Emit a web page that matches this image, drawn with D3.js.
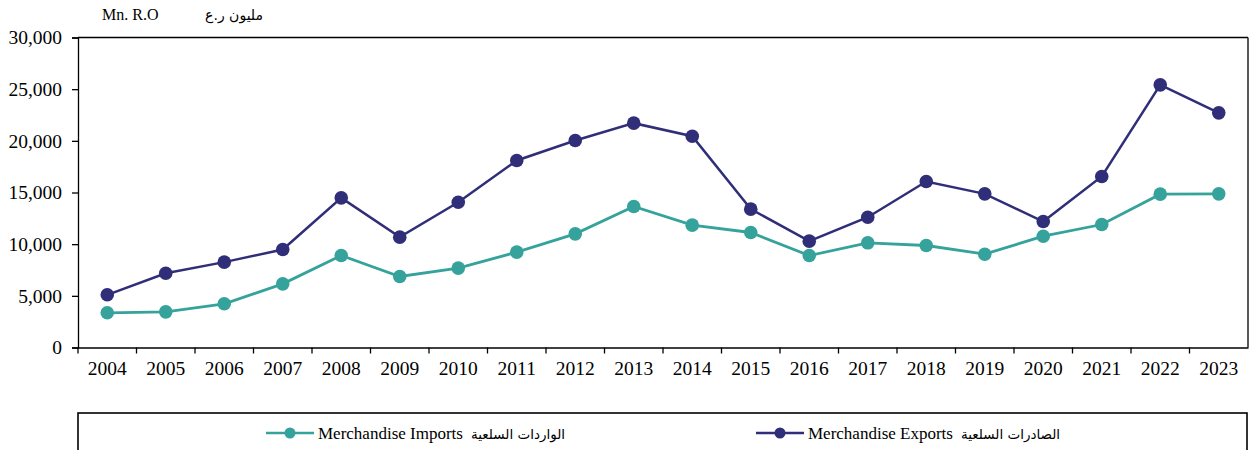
<!DOCTYPE html>
<meta charset="utf-8">
<style>
body { margin: 0; background: #fff; }
.axis path, .axis line { stroke: #000; }
.axis text { font-family: "Liberation Serif", "Times New Roman", serif; font-size: 19.5px; fill: #000; }
</style>
<div id="viz"></div>
<script src="https://d3js.org/d3.v7.min.js"></script>
<script>
// data (million R.O)
var years   = ['2004','2005','2006','2007','2008','2009','2010','2011','2012','2013',
               '2014','2015','2016','2017','2018','2019','2020','2021','2022','2023'];
var exportsV = [5100, 7190, 8260, 9480, 14480, 10680, 14060, 18100, 20030, 21710,
                20450, 13390, 10290, 12610, 16060, 14870, 12190, 16550, 25420, 22710];
var importsV = [3360, 3450, 4230, 6160, 8900, 6870, 7680, 9230, 11000, 13650,
                11840, 11130, 8900, 10130, 9870, 9030, 10770, 11900, 14840, 14870];
var yTicks = [0, 5000, 10000, 15000, 20000, 25000, 30000];

var series = [
  {name: 'Merchandise Imports', ar: 'الواردات السلعية', values: importsV, color: '#35a39b', lw: 2.8},
  {name: 'Merchandise Exports', ar: 'الصادرات السلعية', values: exportsV, color: '#302e78', lw: 2.5}
];

var W = 1250, H = 450;
var svg = d3.select('#viz').append('svg')
    .attr('width', W).attr('height', H);

var x = d3.scaleBand().domain(years).range([78, 1248]).padding(0);
var y = d3.scaleLinear().domain([0, 30000]).range([347.5, 37.5]);

// frame: top and right borders
svg.append('line')
    .attr('x1', x.range()[0]).attr('x2', x.range()[1])
    .attr('y1', y(30000)).attr('y2', y(30000))
    .attr('stroke', '#000').attr('stroke-width', 1.3);
svg.append('line')
    .attr('x1', x.range()[1]).attr('x2', x.range()[1])
    .attr('y1', y(30000)).attr('y2', y(0))
    .attr('stroke', '#000').attr('stroke-width', 1.3);

// y axis
svg.append('g')
    .attr('class', 'axis')
    .attr('transform', 'translate(' + x.range()[0] + ',0)')
    .call(d3.axisLeft(y).tickValues(yTicks).tickSize(6).tickPadding(10).tickFormat(d3.format(',')))
    .call(g => g.selectAll('path, line').attr('stroke-width', 1.3));

// x axis: labels at band centres, ticks at band edges
var xa = svg.append('g')
    .attr('class', 'axis')
    .attr('transform', 'translate(0,' + y(0) + ')')
    .call(d3.axisBottom(x).tickSize(0).tickPadding(14).tickSizeOuter(0))
    .call(g => g.select('.domain').attr('stroke-width', 1.3));
xa.selectAll('.edge')
    .data(years)
    .enter().append('line')
    .attr('class', 'edge')
    .attr('x1', d => x(d)).attr('x2', d => x(d))
    .attr('y1', 0).attr('y2', 6)
    .attr('stroke', '#000').attr('stroke-width', 1.3);

// lines + markers
var line = d3.line()
    .x((d, i) => x(years[i]) + x.bandwidth() / 2)
    .y(d => y(d));

series.forEach(function(s) {
  svg.append('path')
      .datum(s.values)
      .attr('fill', 'none')
      .attr('stroke', s.color)
      .attr('stroke-width', s.lw)
      .attr('d', line);
  svg.append('g')
      .selectAll('circle')
      .data(s.values)
      .enter().append('circle')
      .attr('cx', (d, i) => x(years[i]) + x.bandwidth() / 2)
      .attr('cy', d => y(d))
      .attr('r', 6.8)
      .attr('fill', s.color);
});

// unit labels
svg.append('text')
    .attr('x', 102).attr('y', 20)
    .style('font-family', '"Liberation Serif", serif').style('font-size', '16px')
    .text('Mn. R.O');
svg.append('text')
    .attr('x', 263).attr('y', 20)
    .attr('text-anchor', 'end')
    .style('font-family', '"DejaVu Sans", serif').style('font-size', '14px')
    .text('مليون ر.ع');

// legend box
svg.append('rect')
    .attr('x', 78).attr('y', 413)
    .attr('width', 1169).attr('height', 60)
    .attr('fill', 'none').attr('stroke', '#000').attr('stroke-width', 1.6);

var legX = [266, 756];
series.forEach(function(s, i) {
  var g = svg.append('g').attr('transform', 'translate(' + legX[i] + ',433)');
  g.append('line').attr('x1', 0).attr('x2', 48).attr('y1', 0).attr('y2', 0)
      .attr('stroke', s.color).attr('stroke-width', 2.5);
  g.append('circle').attr('cx', 24).attr('cy', 0).attr('r', 5.5).attr('fill', s.color);
  var t = g.append('text')
      .attr('x', 52).attr('y', 5.5)
      .style('font-family', '"Liberation Serif", serif').style('font-size', '17px');
  t.append('tspan').text(s.name);
  t.append('tspan').attr('dx', 8)
      .style('font-family', '"DejaVu Sans", sans-serif').style('font-size', '13.5px')
      .text(s.ar);
});
</script>
